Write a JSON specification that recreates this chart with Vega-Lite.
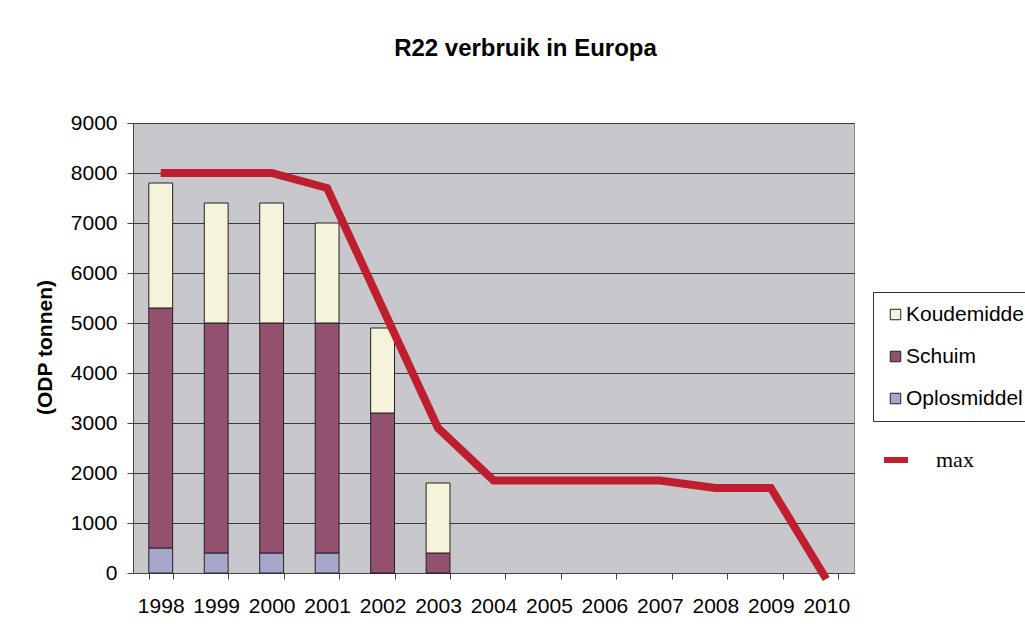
{
  "$schema": "https://vega.github.io/schema/vega-lite/v6.json",
  "autosize": {"type": "none"},
  "padding": {"left": 133, "top": 123, "right": 171, "bottom": 67},
  "width": 721,
  "height": 450,
  "background": "white",
  "title": {
    "text": "R22 verbruik in Europa",
    "font": "Liberation Sans",
    "fontSize": 24,
    "fontWeight": "bold",
    "color": "black",
    "anchor": "middle",
    "frame": "group",
    "dx": 32,
    "baseline": "alphabetic",
    "offset": 32
  },
  "config": {
    "view": {"fill": "#C8C7CC", "stroke": "#8a8a8a", "strokeWidth": 1},
    "font": "Liberation Sans",
    "axis": {
      "labelFont": "Liberation Sans",
      "labelFontSize": 21,
      "labelColor": "black",
      "domainColor": "#444",
      "tickColor": "#444",
      "tickSize": 6
    }
  },
  "datasets": {
    "bars": [
      {"year": 1998, "category": "Oplosmiddel", "value": 500},
      {"year": 1998, "category": "Schuim", "value": 4800},
      {"year": 1998, "category": "Koudemiddel", "value": 2500},
      {"year": 1999, "category": "Oplosmiddel", "value": 400},
      {"year": 1999, "category": "Schuim", "value": 4600},
      {"year": 1999, "category": "Koudemiddel", "value": 2400},
      {"year": 2000, "category": "Oplosmiddel", "value": 400},
      {"year": 2000, "category": "Schuim", "value": 4600},
      {"year": 2000, "category": "Koudemiddel", "value": 2400},
      {"year": 2001, "category": "Oplosmiddel", "value": 400},
      {"year": 2001, "category": "Schuim", "value": 4600},
      {"year": 2001, "category": "Koudemiddel", "value": 2000},
      {"year": 2002, "category": "Oplosmiddel", "value": 0},
      {"year": 2002, "category": "Schuim", "value": 3200},
      {"year": 2002, "category": "Koudemiddel", "value": 1700},
      {"year": 2003, "category": "Oplosmiddel", "value": 0},
      {"year": 2003, "category": "Schuim", "value": 400},
      {"year": 2003, "category": "Koudemiddel", "value": 1400}
    ],
    "maxline": [
      {"year": 1998, "series": "max", "max": 8000},
      {"year": 2000, "series": "max", "max": 8000},
      {"year": 2001, "series": "max", "max": 7700},
      {"year": 2003, "series": "max", "max": 2900},
      {"year": 2004, "series": "max", "max": 1850},
      {"year": 2007, "series": "max", "max": 1850},
      {"year": 2008, "series": "max", "max": 1700},
      {"year": 2009, "series": "max", "max": 1700},
      {"year": 2010, "series": "max", "max": -120}
    ]
  },
  "encoding": {
    "x": {
      "field": "year",
      "type": "ordinal",
      "scale": {
        "domain": [1998, 1999, 2000, 2001, 2002, 2003, 2004, 2005, 2006, 2007, 2008, 2009, 2010],
        "paddingInner": 0.57,
        "paddingOuter": 0.285
      },
      "axis": {
        "title": null,
        "labelAngle": 0,
        "tickBand": "extent",
        "labelPadding": 16,
        "grid": false
      }
    }
  },
  "layer": [
    {
      "data": {"name": "bars"},
      "transform": [
        {"calculate": "indexof(['Oplosmiddel', 'Schuim', 'Koudemiddel'], datum.category)", "as": "stackorder"}
      ],
      "mark": {"type": "bar", "stroke": "#222", "strokeWidth": 1},
      "encoding": {
        "y": {
          "field": "value",
          "type": "quantitative",
          "stack": "zero",
          "scale": {"domain": [0, 9000], "nice": false},
          "axis": {
            "title": "(ODP tonnen)",
            "titleFont": "Liberation Sans",
            "titleFontSize": 21,
            "titleFontWeight": "bold",
            "titleColor": "black",
            "titleAngle": 270,
            "titleX": -88,
            "titleY": 224,
            "titleAlign": "center",
            "titleBaseline": "middle",
            "values": [0, 1000, 2000, 3000, 4000, 5000, 6000, 7000, 8000, 9000],
            "format": "d",
            "labelPadding": 10,
            "grid": true,
            "gridColor": "#3a3a3a",
            "gridWidth": 1
          }
        },
        "order": {"field": "stackorder", "type": "quantitative", "sort": "ascending"},
        "fill": {
          "field": "category",
          "type": "nominal",
          "scale": {
            "domain": ["Koudemiddel", "Schuim", "Oplosmiddel"],
            "range": ["#F5F3D9", "#93506F", "#A7A6CB"]
          },
          "legend": {
            "title": null,
            "orient": "none",
            "legendX": 740,
            "legendY": 169,
            "padding": 12,
            "strokeColor": "#333",
            "fillColor": "white",
            "symbolType": "square",
            "symbolSize": 110,
            "symbolStrokeColor": "#222",
            "symbolStrokeWidth": 1,
            "symbolOpacity": 1,
            "labelFont": "Liberation Sans",
            "labelFontSize": 21,
            "labelColor": "black",
            "labelOffset": 0,
            "labelLimit": 400,
            "rowPadding": 20
          }
        }
      }
    },
    {
      "data": {"name": "maxline"},
      "mark": {"type": "line", "strokeWidth": 8, "strokeCap": "butt", "strokeJoin": "miter"},
      "encoding": {
        "y": {"field": "max", "type": "quantitative"},
        "stroke": {
          "field": "series",
          "type": "nominal",
          "scale": {"domain": ["max"], "range": ["#BE1E2D"]},
          "legend": {
            "title": null,
            "orient": "none",
            "legendX": 748,
            "legendY": 322,
            "padding": 0,
            "symbolType": "stroke",
            "symbolSize": 576,
            "symbolStrokeWidth": 6,
            "labelFont": "Liberation Serif",
            "labelFontSize": 22,
            "labelColor": "black",
            "labelOffset": 25,
            "labelBaseline": "middle"
          }
        }
      }
    }
  ]
}
